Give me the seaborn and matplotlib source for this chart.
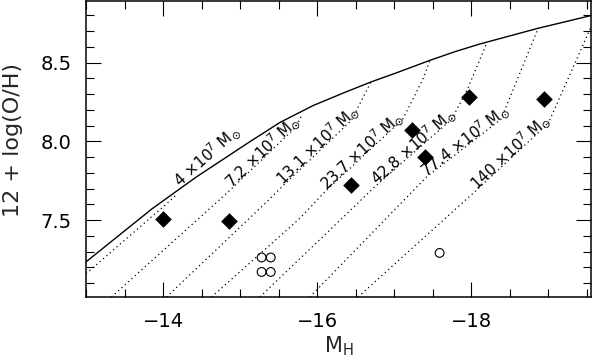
import numpy as np
import matplotlib
matplotlib.use("Agg")
import matplotlib.pyplot as plt
import seaborn as sns
from matplotlib.ticker import MultipleLocator

# ---------------- data ----------------
# solid (upper envelope) curve
solid_M = [-13.0, -13.862, -14.434, -15.126, -15.515, -15.948, -16.382,
           -16.706, -17.031, -17.464, -17.788, -18.113, -18.87, -19.56]
solid_oh = [7.235, 7.574, 7.775, 7.998, 8.120, 8.228, 8.316,
            8.379, 8.436, 8.515, 8.570, 8.619, 8.719, 8.800]

# dotted mass tracks (label in units of 1e7 Msun)
track_names = ["4", "7.2", "13.1", "23.7", "42.8", "77.4", "140"]
track_M = [
    [-13.0, -14.10, -14.17],
    [-13.33, -14.727, -14.89, -15.72, -15.80],
    [-14.044, -15.369, -15.56, -16.447, -16.70],
    [-14.629, -15.775, -16.122, -17.109, -17.26, -17.387, -17.464],
    [-15.257, -16.771, -17.745, -17.95, -18.20],
    [-15.905, -17.421, -18.386, -18.87],
    [-16.532, -18.07, -19.00, -19.499, -19.60],
]
track_oh = [
    [7.16, 7.627, 7.66],
    [7.012, 7.627, 7.70, 8.09, 8.165],
    [7.012, 7.627, 7.72, 8.135, 8.38],
    [7.012, 7.511, 7.691, 8.14, 8.284, 8.411, 8.515],
    [7.012, 7.722, 8.14, 8.33, 8.623],
    [7.012, 7.775, 8.14, 8.719],
    [7.012, 7.691, 8.115, 8.665, 8.78],
]
# label baseline start / direction points along each track
lab_M0 = [-14.22, -14.89, -15.56, -16.122, -16.771, -17.421, -18.07]
lab_oh0 = [7.71, 7.70, 7.72, 7.691, 7.722, 7.775, 7.691]
lab_M1 = [-14.86, -15.72, -16.447, -17.109, -17.745, -18.386, -19.00]
lab_oh1 = [7.99, 8.09, 8.135, 8.14, 8.14, 8.14, 8.115]

# galaxies: filled diamonds
dia_M = [-14.0, -14.85, -16.44, -17.23, -17.40, -17.97, -18.94]
dia_oh = [7.51, 7.494, 7.722, 8.071, 7.90, 8.285, 8.27]
# open circles
circ_M = [-15.279, -15.398, -15.279, -15.398, -17.59]
circ_oh = [7.263, 7.263, 7.171, 7.171, 7.292]

# ---------------- figure ----------------
sns.set_style("ticks")
plt.rcParams["font.family"] = ["DejaVu Sans"]
plt.rcParams["mathtext.fontset"] = "dejavusans"

fig = plt.figure(figsize=(5.92, 3.60), dpi=100)
ax = fig.add_axes([86 / 592, 63 / 360, 505 / 592, 296 / 360])
ax.set_xlim(-13.0, -19.555)
ax.set_ylim(7.012, 8.892)

sns.lineplot(x=solid_M, y=solid_oh, ax=ax, color="black", lw=1.0,
             sort=False, estimator=None)
for M, oh in zip(track_M, track_oh):
    sns.lineplot(x=M, y=oh, ax=ax, color="black", lw=0.9,
                 linestyle=(0, (1, 2.6)), sort=False, estimator=None)

sns.scatterplot(x=dia_M, y=dia_oh, ax=ax, marker="D", s=72,
                color="black", linewidth=0, zorder=5)
ax.scatter(circ_M, circ_oh, marker="o", s=40, facecolors="none",
           edgecolors="black", linewidths=0.8, zorder=5)

for name, M0, y0, M1, y1 in zip(track_names, lab_M0, lab_oh0, lab_M1, lab_oh1):
    p0 = ax.transData.transform((M0, y0))
    p1 = ax.transData.transform((M1, y1))
    ang = np.degrees(np.arctan2(p1[1] - p0[1], p1[0] - p0[0]))
    ax.text(M0, y0, name + r" $\times10^{7}$ M$_{\odot}$", rotation=ang,
            rotation_mode="anchor", ha="left", va="baseline",
            fontsize=11, color="black", zorder=6)

# ticks / axes
ax.xaxis.set_major_locator(MultipleLocator(2))
ax.xaxis.set_minor_locator(MultipleLocator(0.5))
ax.yaxis.set_major_locator(MultipleLocator(0.5))
ax.yaxis.set_minor_locator(MultipleLocator(0.1))
ax.tick_params(which="both", direction="in", top=True, right=True,
               colors="black", width=0.8)
ax.tick_params(which="major", length=10.5, pad=10.5, labelsize=14)
ax.tick_params(which="minor", length=5.5)
for s in ax.spines.values():
    s.set_linewidth(1.1)
    s.set_color("black")

ax.set_xlabel(r"M$_{\rm H}$", fontsize=15, labelpad=3)
ax.set_ylabel("12 + log(O/H)", fontsize=16)
ax.yaxis.set_label_coords(-0.125, 0.53)

fig.savefig("out.png", dpi=100)
